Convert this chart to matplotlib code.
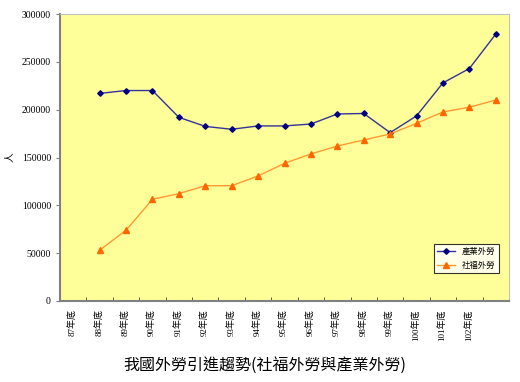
import matplotlib
matplotlib.use("Agg")
import matplotlib.pyplot as plt
import numpy as np

plt.rcParams["font.family"] = ["Liberation Serif", "Noto Sans CJK TC"]

# category labels (last slot has no label)
years = ["87年底", "88年底", "89年底", "90年底", "91年底", "92年底", "93年底", "94年底",
         "95年底", "96年底", "97年底", "98年底", "99年底", "100年底", "101年底", "102年底", ""]

# 產業外勞 (first category empty)
industry = [np.nan, 217000, 220000, 220000, 192000, 182500, 179500, 183000, 183000,
            185000, 195500, 196000, 176000, 193500, 228000, 243000, 279000]
# 社福外勞
welfare = [np.nan, 53000, 74000, 106300, 112200, 120500, 120500, 130700, 143900,
           153700, 162000, 168300, 174600, 185700, 197600, 202500, 210100]

x = np.arange(len(years))

fig = plt.figure(figsize=(5.2, 3.82), dpi=100)
ax = fig.add_axes([60/520, 1 - 301/382, 449/520, 287/382])
ax.set_facecolor("#FFFF99")

ax.plot(x, industry, color="#333399", linewidth=1, marker="D", markersize=2.8,
        markerfacecolor="#000080", markeredgecolor="#000080", label="產業外勞")
ax.plot(x, welfare, color="#FF9933", linewidth=1, marker="^", markersize=3.8,
        markerfacecolor="#FF6600", markeredgecolor="#FF6600", label="社福外勞")

ax.set_xlim(-0.5, len(years) - 0.5)
ax.set_ylim(0, 300000)
ax.set_yticks(np.arange(0, 300001, 50000))
ax.tick_params(axis="y", labelsize=7, length=3, color="#808080")

ax.set_xticks(x)
ax.set_xticklabels(years, rotation=90, fontsize=6.5)
ax.tick_params(axis="x", which="major", length=0, pad=6)
ax.set_xticks(x[:-1] + 0.5, minor=True)
ax.tick_params(axis="x", which="minor", length=3, direction="in", color="#404040")

for s in ["left", "bottom"]:
    ax.spines[s].set_color("#808080")
    ax.spines[s].set_linewidth(1.5)
for s in ["top", "right"]:
    ax.spines[s].set_color("#c0c0c0")

ax.set_ylabel("人", rotation=90, fontsize=7, labelpad=6, family="Noto Sans CJK TC")

leg = ax.legend(loc="lower right", bbox_to_anchor=(503/520, 1 - 277/382),
                bbox_transform=fig.transFigure, frameon=True,
                fancybox=False, borderpad=0.4, handlelength=2.2, labelspacing=0.5,
                prop={"family": "Noto Sans CJK TC", "size": 6})
leg.get_frame().set_edgecolor("black")
leg.get_frame().set_linewidth(0.8)
leg.get_frame().set_facecolor("white")

fig.text(265/520, 1 - 365/382, "我國外勞引進趨勢(社福外勞與產業外勞)", ha="center", va="center",
         fontsize=11.5, family="Noto Sans CJK TC")

fig.savefig("out.png", dpi=100)
